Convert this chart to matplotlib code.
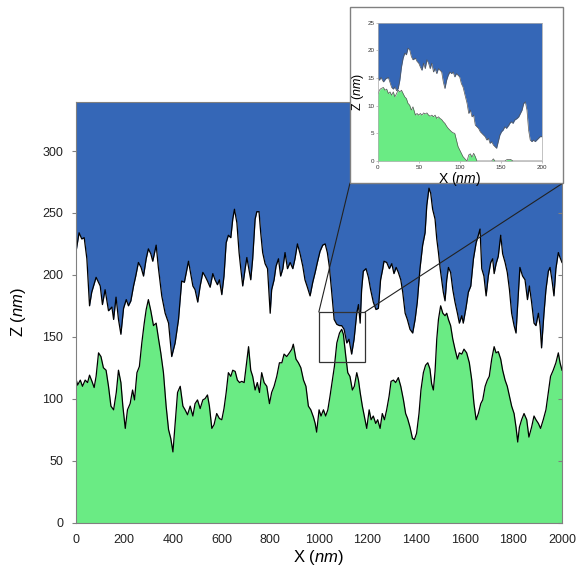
import matplotlib
matplotlib.use("Agg")
from matplotlib import pyplot as plt
from matplotlib.patches import Rectangle, ConnectionPatch

plt.rcParams['font.family'] = ['Liberation Sans', 'DejaVu Sans']
plt.rcParams['mathtext.fontset'] = 'custom'
plt.rcParams['mathtext.rm'] = 'Liberation Sans'
plt.rcParams['mathtext.it'] = 'Liberation Sans:italic'

# upper surface (blue boundary), main plot
top_x = [0, 14, 25, 35, 46, 57, 66, 84, 101, 110, 121, 135, 149, 156, 166, 176, 186, 197, 208, 217,
         227, 238, 247, 258, 269, 279, 290, 299, 309, 317, 331, 340, 354, 368, 382, 395, 409, 423, 436, 447,
         464, 482, 491, 502, 512, 523, 532, 542, 553, 564, 573, 583, 591, 601, 610, 619, 628, 638, 646, 653,
         663, 672, 679, 687, 697, 704, 711, 720, 728, 738, 745, 754, 761, 769, 779, 789, 800, 806, 816, 824,
         834, 843, 852, 861, 871, 882, 893, 902, 912, 923, 934, 943, 953, 964, 975, 985, 994, 1005, 1016, 1026,
         1035, 1043, 1053, 1063, 1074, 1085, 1094, 1104, 1115, 1124, 1135, 1145, 1156, 1163, 1170, 1176, 1183, 1194, 1204, 1213,
         1224, 1235, 1245, 1254, 1263, 1268, 1279, 1290, 1300, 1309, 1318, 1327, 1337, 1345, 1355, 1364, 1375, 1386, 1396, 1405,
         1416, 1427, 1437, 1444, 1453, 1460, 1468, 1478, 1485, 1492, 1499, 1505, 1512, 1519, 1526, 1533, 1542, 1551, 1560, 1570,
         1578, 1588, 1594, 1605, 1615, 1625, 1636, 1647, 1656, 1663, 1670, 1679, 1688, 1697, 1707, 1715, 1721, 1729, 1738, 1748,
         1756, 1766, 1775, 1784, 1793, 1803, 1811, 1821, 1827, 1838, 1848, 1858, 1866, 1875, 1885, 1893, 1903, 1910, 1916, 1926,
         1934, 1944, 1951, 1960, 1967, 1975, 1985, 1992, 2000]
top_z = [217, 234, 229, 230, 213, 175, 186, 198, 191, 176, 188, 171, 174, 164, 182, 164, 152, 173, 180, 175,
         179, 191, 199, 210, 206, 199, 213, 221, 217, 211, 224, 206, 183, 169, 161, 134, 145, 164, 195, 194,
         211, 191, 188, 178, 191, 202, 199, 195, 190, 201, 196, 192, 196, 184, 199, 226, 232, 230, 245, 253,
         242, 218, 205, 191, 205, 214, 206, 196, 213, 245, 251, 251, 234, 218, 209, 205, 169, 188, 196, 207,
         213, 199, 205, 218, 205, 210, 205, 213, 225, 217, 207, 196, 190, 183, 194, 202, 210, 219, 224, 225,
         218, 207, 186, 164, 160, 159, 159, 156, 145, 148, 136, 148, 169, 176, 161, 188, 203, 205, 198, 188,
         178, 172, 173, 196, 205, 211, 210, 205, 209, 201, 206, 202, 196, 186, 169, 164, 156, 153, 164, 178,
         205, 224, 234, 256, 270, 266, 253, 245, 229, 218, 205, 196, 186, 179, 196, 206, 202, 188, 178, 169,
         161, 167, 161, 173, 186, 191, 213, 226, 232, 237, 205, 199, 183, 199, 210, 213, 201, 209, 215, 232,
         217, 210, 202, 188, 169, 159, 153, 186, 206, 199, 196, 180, 191, 178, 161, 159, 169, 159, 141, 169,
         188, 203, 206, 194, 183, 205, 218, 214, 210]

# lower surface (green boundary), main plot
bot_x = [0, 8, 19, 28, 39, 49, 57, 67, 76, 84, 94, 104, 114, 125, 135, 145, 156, 167, 176, 186,
         194, 204, 213, 224, 234, 242, 252, 262, 272, 282, 290, 299, 309, 320, 331, 341, 350, 361, 372, 382,
         391, 400, 409, 419, 430, 441, 450, 460, 471, 482, 491, 501, 512, 523, 532, 542, 550, 560, 569, 580,
         591, 601, 610, 619, 628, 638, 646, 656, 665, 674, 683, 693, 701, 711, 720, 728, 738, 747, 756, 765,
         775, 786, 797, 806, 816, 827, 838, 848, 857, 868, 879, 889, 895, 906, 916, 926, 937, 947, 957, 967,
         978, 985, 991, 1001, 1009, 1019, 1028, 1037, 1046, 1056, 1064, 1074, 1085, 1094, 1101, 1111, 1119, 1128, 1138, 1146,
         1156, 1163, 1170, 1179, 1187, 1197, 1207, 1215, 1224, 1234, 1242, 1252, 1261, 1270, 1279, 1289, 1297, 1307, 1316, 1327,
         1337, 1348, 1357, 1365, 1375, 1385, 1393, 1402, 1412, 1420, 1430, 1439, 1448, 1457, 1464, 1471, 1478, 1485, 1492, 1501,
         1510, 1519, 1526, 1533, 1542, 1551, 1560, 1570, 1578, 1588, 1597, 1608, 1619, 1629, 1638, 1647, 1656, 1666, 1674, 1684,
         1693, 1701, 1711, 1721, 1729, 1738, 1748, 1756, 1766, 1775, 1784, 1793, 1803, 1811, 1818, 1825, 1834, 1844, 1855, 1864,
         1875, 1885, 1893, 1903, 1912, 1923, 1934, 1944, 1953, 1964, 1975, 1985, 1992, 2000]
bot_z = [117, 111, 115, 110, 115, 113, 119, 114, 109, 118, 137, 134, 125, 123, 110, 94, 91, 105, 123, 113,
         94, 76, 91, 96, 107, 99, 121, 126, 145, 161, 172, 180, 171, 159, 161, 148, 137, 121, 94, 75,
         68, 57, 80, 105, 110, 94, 91, 87, 94, 86, 96, 99, 92, 99, 100, 103, 94, 76, 79, 88,
         84, 83, 92, 105, 121, 118, 123, 122, 115, 113, 114, 113, 126, 142, 123, 118, 107, 113, 105, 121,
         113, 110, 96, 105, 110, 118, 129, 129, 136, 134, 137, 140, 144, 132, 129, 125, 115, 110, 94, 91,
         85, 80, 73, 91, 86, 91, 86, 91, 102, 115, 126, 145, 153, 156, 152, 134, 121, 118, 107, 110,
         121, 115, 105, 94, 86, 76, 91, 83, 86, 80, 83, 76, 88, 83, 91, 102, 114, 115, 113, 117,
         110, 99, 88, 84, 77, 68, 67, 72, 88, 107, 121, 127, 129, 124, 112, 107, 122, 148, 164, 175,
         169, 167, 169, 164, 159, 148, 140, 132, 137, 136, 140, 137, 129, 115, 96, 83, 88, 96, 99, 110,
         115, 118, 132, 142, 137, 138, 132, 123, 115, 110, 102, 94, 88, 77, 65, 77, 83, 88, 83, 69,
         77, 86, 83, 80, 76, 83, 91, 105, 118, 123, 129, 137, 129, 123]

# inset (zoomed 200 nm window)
ins_top_x = [0, 2, 4, 7, 10, 13, 15, 17, 19, 21, 23, 25, 27, 29, 31, 33, 35, 37, 39, 41,
             43, 46, 48, 50, 52, 54, 56, 58, 60, 62, 64, 66, 68, 70, 72, 74, 76, 78, 80, 82,
             84, 86, 88, 90, 92, 94, 96, 98, 100, 102, 104, 107, 109, 111, 113, 115, 117, 119, 121, 123,
             125, 127, 129, 131, 133, 135, 137, 139, 141, 143, 145, 147, 149, 151, 153, 155, 157, 160, 161, 163,
             165, 167, 170, 172, 174, 176, 178, 180, 182, 184, 186, 188, 190, 192, 194, 196, 198, 200]
ins_top_z = [15.2, 14.6, 15.1, 14.3, 14.9, 15.1, 14.2, 13.3, 13.0, 13.4, 12.7, 13.1, 14.6, 17.0, 18.6, 19.5, 19.2, 20.4, 20.1, 18.9,
             18.3, 18.6, 18.0, 17.7, 17.0, 16.4, 17.7, 16.7, 18.3, 17.7, 16.7, 17.7, 16.1, 16.7, 15.8, 16.7, 16.4, 16.1, 14.3, 13.1,
             14.6, 15.5, 16.1, 15.8, 16.1, 15.2, 15.8, 15.5, 15.2, 14.0, 13.4, 11.6, 10.4, 8.6, 9.2, 8.0, 8.3, 6.5, 6.2, 5.9,
             5.3, 5.0, 4.7, 4.4, 3.8, 4.1, 3.2, 3.5, 2.9, 2.6, 2.3, 3.5, 4.7, 5.3, 5.6, 6.2, 5.9, 6.5, 6.8, 7.1,
             6.8, 7.4, 7.7, 8.0, 8.6, 9.2, 10.4, 10.7, 9.2, 5.6, 3.8, 3.5, 3.8, 3.5, 3.8, 4.1, 4.4, 4.4]
ins_bot_x = [0, 2, 4, 7, 9, 11, 13, 15, 17, 19, 21, 23, 25, 27, 29, 31, 33, 35, 37, 39,
             41, 43, 46, 48, 50, 52, 54, 56, 58, 60, 62, 64, 66, 68, 70, 72, 74, 76, 78, 80,
             82, 84, 86, 88, 90, 92, 94, 96, 98, 100, 102, 104, 107, 109, 111, 113, 115, 117, 119, 121,
             139, 141, 143, 155, 158, 162, 165, 200]
ins_bot_z = [11.9, 12.8, 13.1, 13.3, 12.8, 13.0, 12.2, 12.5, 11.9, 12.5, 11.6, 12.2, 12.8, 12.5, 12.8, 12.2, 11.6, 11.3, 10.4, 10.1,
             9.2, 9.8, 8.3, 8.6, 8.3, 8.6, 8.3, 8.7, 8.5, 8.7, 8.3, 8.1, 8.3, 8.0, 8.3, 7.7, 8.0, 7.7, 7.5, 7.1,
             6.8, 6.3, 5.9, 5.6, 5.3, 5.1, 5.0, 3.8, 2.6, 2.0, 1.4, 0.8, 0.3, 0.0, 1.1, 1.3, 0.7, 1.4, 0.8, 0.0,
             0.0, 0.4, 0.0, 0.0, 0.3, 0.3, 0.0, 0.0]

blue = '#3567b7'
green = '#6aeb84'
spine_col = '#808080'

fig = plt.figure(figsize=(5.79, 5.68), dpi=100)
ax = fig.add_axes([0.1307, 0.0801, 0.8399, 0.7412])

ax.fill_between(bot_x, 0, bot_z, color=green, lw=0)
ax.fill_between(top_x, top_z, 340, color=blue, lw=0)
ax.plot(bot_x, bot_z, color='black', lw=0.9)
ax.plot(top_x, top_z, color='black', lw=0.9)
ax.set_xlim(0, 2000)
ax.set_ylim(0, 340)
ax.set_xticks(range(0, 2001, 200))
ax.set_yticks(range(0, 301, 50))
for s in ax.spines.values():
    s.set_color(spine_col)
    s.set_linewidth(0.8)
ax.tick_params(axis='x', length=0, pad=8, labelsize=9, colors='#222222')
ax.tick_params(axis='y', length=3, direction='out', pad=6, labelsize=9, colors='#222222',
               color=spine_col)
# short inward ticks on the right spine
for t in ax.yaxis.get_major_ticks():
    t.tick2line.set_visible(True)
    t.tick2line.set_marker(matplotlib.lines.TICKLEFT)
    t.tick2line.set_markersize(3)
    t.tick2line.set_color(spine_col)
ax.set_xlabel(r'X ($\mathit{nm}$)', fontsize=12, labelpad=2)
ax.set_ylabel(r'Z ($\mathit{nm}$)', fontsize=12, labelpad=10)

# zoom window
ax.add_patch(Rectangle((1000, 130), 190, 40, fill=False, edgecolor='#333333', lw=0.9, zorder=5))

# frame of inset
fl, fb, fw, fh = 0.6045, 0.6778, 0.3679, 0.3099
frame = Rectangle((fl, fb), fw, fh, transform=fig.transFigure, facecolor='white',
                  edgecolor=spine_col, lw=1.0, zorder=3)
fig.add_artist(frame)

for xa, xf in [(1000, fl), (1190, fl + fw)]:
    con = ConnectionPatch(xyA=(xa, 170), coordsA=ax.transData, xyB=(xf, fb),
                          coordsB=fig.transFigure, color='#222222', lw=0.8, zorder=2)
    fig.add_artist(con)

axi = fig.add_axes([0.6523, 0.7165, 0.2833, 0.2435], zorder=5)
axi.fill_between(ins_bot_x, 0, ins_bot_z, color=green, lw=0)
axi.fill_between(ins_top_x, ins_top_z, 25, color=blue, lw=0)
axi.plot(ins_bot_x, ins_bot_z, color='#555555', lw=0.5)
axi.plot(ins_top_x, ins_top_z, color='#555555', lw=0.5)
axi.set_xlim(0, 200)
axi.set_ylim(0, 25)
axi.set_xticks([0, 50, 100, 150, 200])
axi.set_yticks([0, 5, 10, 15, 20, 25])
for s in axi.spines.values():
    s.set_color('#aaaaaa')
    s.set_linewidth(0.5)
axi.tick_params(length=1.5, width=0.5, pad=1, labelsize=4.5, colors='#333333', color='#aaaaaa')
axi.set_xlabel(r'X ($\mathit{nm}$)', fontsize=10, labelpad=0)
axi.set_ylabel(r'Z ($\mathit{nm}$)', fontsize=9, labelpad=1)

plt.savefig('out.png', dpi=100)
